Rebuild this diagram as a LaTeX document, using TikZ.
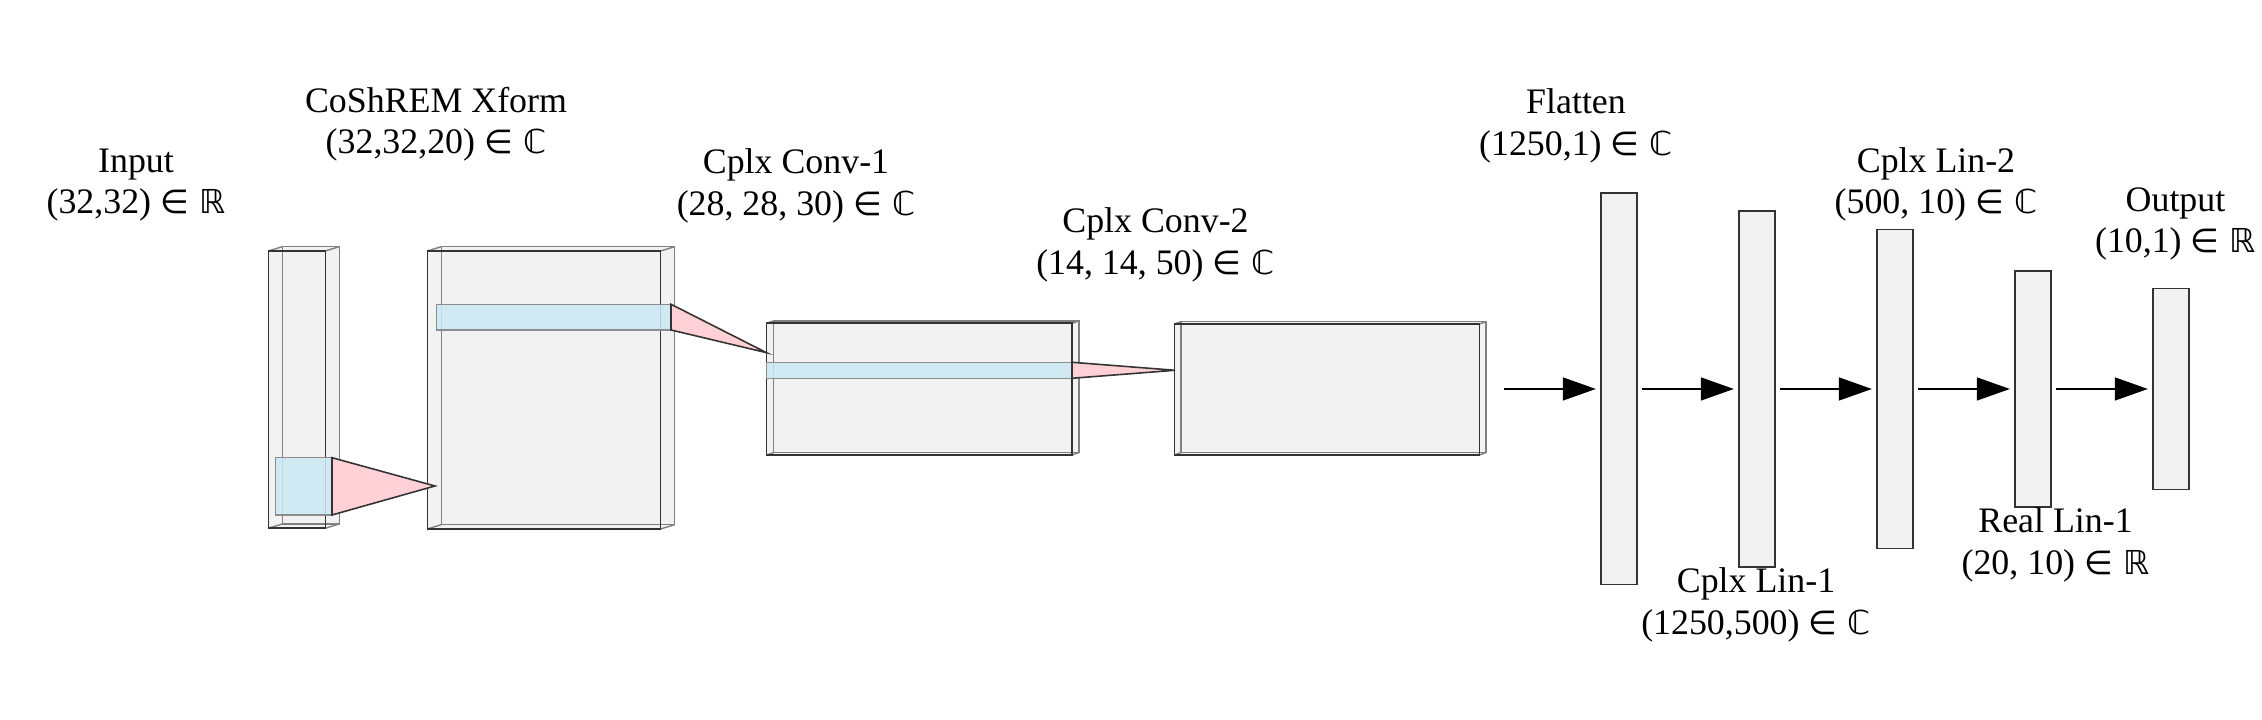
\documentclass[tikz,border=0pt]{standalone}
\usepackage{fontspec}
\setmainfont{Liberation Serif}
\newfontfamily\dvsym{DejaVu Sans}[Scale=0.92]
\usetikzlibrary{arrows.meta}
\definecolor{boxgray}{HTML}{F2F2F2}
\definecolor{patchblue}{HTML}{CCE8F4}
\definecolor{conepink}{HTML}{FFD1D6}
\newcommand{\inR}{{\dvsym ∈ ℝ}}
\newcommand{\inC}{{\dvsym ∈ ℂ}}
% cuboid: (left,bottom)(right,top)[depth x,depth y]
\def\cuboid(#1,#2)(#3,#4)[#5,#6]{
	\fill[boxgray] (#1,#2) -- (#1,#4) -- ({#1+#5},{#4+#6}) -- ({#3+#5},{#4+#6}) -- ({#3+#5},{#2+#6}) -- (#3,#2) -- cycle;
	\draw[backedge] ({#1+#5},{#2+#6}) rectangle ({#3+#5},{#4+#6});
	\draw[backedge] (#1,#2) -- ++(#5,#6) (#1,#4) -- ++(#5,#6) (#3,#2) -- ++(#5,#6) (#3,#4) -- ++(#5,#6);
	\draw[frontedge] (#1,#2) rectangle (#3,#4);
}

\begin{document}
\begin{tikzpicture}[
	frontedge/.style={draw=black!80, line width=0.45pt},
	backedge/.style={draw=black!50, line width=0.4pt},
	patch/.style={fill=patchblue, fill opacity=0.85, draw=black!45, line width=0.4pt},
	cone/.style={fill=conepink, draw=black!80, line width=0.45pt},
	bar/.style={draw=black!80, fill=boxgray, line width=0.45pt, minimum width=0.363cm, inner sep=0pt, outer sep=0.05cm},
	flow/.style={-{Triangle[length=3.3mm,width=2.3mm]}, line width=0.4pt},
	lbl/.style={align=center, font=\fontsize{10.2pt}{11.8pt}\selectfont}
	]
	%%%%% START %%%%%
	\useasboundingbox (0,0) rectangle (22.62,7.2);
	
	% input and transform
	\cuboid(2.683,1.917)(3.253,4.69)[0.14,0.043]
	\draw[patch] (2.755,2.05) rectangle (3.32,2.623);
	\cuboid(4.273,1.91)(6.607,4.69)[0.14,0.043]
	\draw[patch] (4.367,3.90) rectangle (6.71,4.157);
	\filldraw[cone] (3.32,2.623) -- (4.35,2.34) -- (3.32,2.05) -- cycle;
	
	% conv layers
	\cuboid(7.665,2.65)(10.72,3.967)[0.07,0.023]
	\filldraw[cone] (6.71,4.157) -- (7.665,3.673) -- (6.71,3.90) -- cycle;
	\draw[patch] (7.665,3.417) rectangle (10.72,3.577);
	\cuboid(11.745,2.65)(14.795,3.96)[0.063,0.023]
	\filldraw[cone] (10.72,3.577) -- (11.75,3.497) -- (10.72,3.417) -- cycle;
	\coordinate (c2out) at (15.044,3.31);
	
	% dense layers
	\node[bar, minimum height=3.914cm] (flatten) at (16.19,3.31) {};
	\node[bar, minimum height=3.563cm] (lin1) at (17.57,3.31) {};
	\node[bar, minimum height=3.19cm] (lin2) at (18.95,3.31) {};
	\node[bar, minimum height=2.36cm] (real1) at (20.33,3.31) {};
	\node[bar, minimum height=2.013cm] (output) at (21.71,3.31) {};
	
	\draw[flow] (c2out) -- (flatten);
	\draw[flow] (flatten) -- (lin1);
	\draw[flow] (lin1) -- (lin2);
	\draw[flow] (lin2) -- (real1);
	\draw[flow] (real1) -- (output);
	
	% labels
	\node[lbl] (inputlbl) at (1.36,5.35) {Input\\(32,32) \inR};
	\node[lbl] (xformlbl) at (4.36,5.96) {CoShREM Xform\\(32,32,20) \inC};
	\node[lbl] (conv1lbl) at (7.96,5.34) {Cplx Conv-1\\(28, 28, 30) \inC};
	\node[lbl] (conv2lbl) at (11.555,4.75) {Cplx Conv-2\\(14, 14, 50) \inC};
	\node[lbl] (flatlbl) at (15.76,5.94) {Flatten\\(1250,1) \inC};
	\node[lbl] (lin1lbl) at (17.56,1.15) {Cplx Lin-1\\(1250,500) \inC};
	\node[lbl] (lin2lbl) at (19.36,5.355) {Cplx Lin-2\\(500, 10) \inC};
	\node[lbl] (real1lbl) at (20.555,1.753) {Real Lin-1\\(20, 10) \inR};
	\node[lbl] (outlbl) at (21.755,4.96) {Output\\(10,1) \inR};
	
	%%%%% END %%%%%
\end{tikzpicture}
\end{document}
